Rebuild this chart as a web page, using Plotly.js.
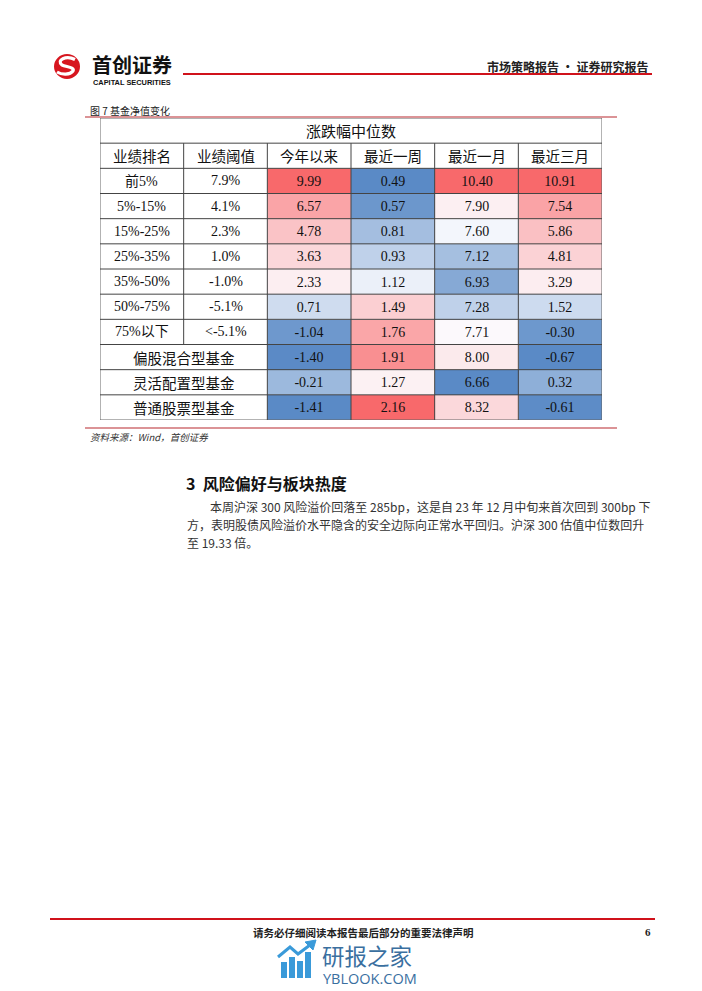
<!DOCTYPE html>
<html><head><meta charset="utf-8">
<script src="https://cdn.plot.ly/plotly-3.0.1.min.js"></script>
<style>html,body{margin:0;padding:0;background:#fff;}#chart{width:702px;height:991px;}</style>
</head><body><div id="chart"></div>
<script>
// ---------------- data ----------------
const tableTitle = '涨跌幅中位数';
const headerLeft = ['业绩排名', '业绩阈值'];
const periods = ['今年以来', '最近一周', '最近一月', '最近三月'];
const rankLabels = ['前5%', '5%-15%', '15%-25%', '25%-35%', '35%-50%', '50%-75%', '75%以下'];
const thresholds = ['7.9%', '4.1%', '2.3%', '1.0%', '-1.0%', '-5.1%', '<-5.1%'];
const fundTypes = ['偏股混合型基金', '灵活配置型基金', '普通股票型基金'];
const ytd     = [9.99, 6.57, 4.78, 3.63, 2.33, 0.71, -1.04, -1.40, -0.21, -1.41];
const week    = [0.49, 0.57, 0.81, 0.93, 1.12, 1.49, 1.76, 1.91, 1.27, 2.16];
const month   = [10.40, 7.90, 7.60, 7.12, 6.93, 7.28, 7.71, 8.00, 6.66, 8.32];
const quarter = [10.91, 7.54, 5.86, 4.81, 3.29, 1.52, -0.30, -0.67, 0.32, -0.61];

// ---------------- helpers ----------------
const W = 702, H = 991;
const px = x => x / W, py = y => 1 - y / H;
const CJK = 'Noto Sans CJK SC';
const SERIF = 'Liberation Serif, ' + CJK;
function median(a){const s=[...a].sort((p,q)=>p-q);const n=s.length;return n%2?s[(n-1)/2]:(s[n/2-1]+s[n/2])/2;}
function norm(a){const mn=Math.min(...a),mx=Math.max(...a),md=median(a);
  return a.map(v=>v<=md?0.5*(v-mn)/(md-mn):0.5+0.5*(v-md)/(mx-md));}

const series = [ytd, week, month, quarter];
const rowLabels = rankLabels.concat(fundTypes);
const nRows = rowLabels.length;
const normCols = series.map(norm);
const z = [], txt = [];
for (let r = 0; r < nRows; r++) {
  z.push(normCols.map(c => c[r]));
  txt.push(series.map(c => c[r].toFixed(2)));
}
const xCenters = periods.map((_, i) => i + 2.5);
const yCenters = rowLabels.map((_, r) => r + 2.5);

const heat = {
  type: 'heatmap', x: xCenters, y: yCenters, z: z, text: txt,
  texttemplate: '%{text}', textfont: {family: SERIF, size: 14, color: '#111'},
  zmin: 0, zmax: 1, showscale: false, hoverinfo: 'skip',
  colorscale: [[0, '#5A8AC6'], [0.5, '#FCFCFF'], [1, '#F8696B']]
};

// ---------------- annotations ----------------
const ann = [];
function pa(text, x, y, size, opt) {
  ann.push(Object.assign({text: text, x: px(x), y: py(y), xref: 'paper', yref: 'paper',
    showarrow: false, xanchor: 'left', yanchor: 'middle',
    font: {family: CJK, size: size, color: '#222'}}, opt || {}));
}
function da(text, x, y, size, fam) {
  ann.push({text: text, x: x, y: y, xref: 'x', yref: 'y', showarrow: false,
    xanchor: 'center', yanchor: 'middle', font: {family: fam || SERIF, size: size, color: '#111'}});
}
const nCols = 2 + periods.length;
da(tableTitle, nCols / 2, 0.5, 15, CJK);
headerLeft.concat(periods).forEach((h, i) => da(h, i + 0.5, 1.5, 14.5, CJK));
rankLabels.forEach((l, r) => da(l, 0.5, r + 2.5, 14));
thresholds.forEach((l, r) => da(l, 1.5, r + 2.5, 14));
fundTypes.forEach((l, r) => da(l, 1, rankLabels.length + r + 2.5, 14.5, CJK));

// page texts
pa('<b>首创证券</b>', 90, 64.5, 20, {font: {family: CJK, size: 20, color: '#111'}});
pa('<b>CAPITAL SECURITIES</b>', 91, 82, 7.4, {font: {family: 'Liberation Sans', size: 7.4, color: '#111'}});
pa('<b>市场策略报告 · 证券研究报告</b>', 650, 66, 12, {xanchor: 'right', font: {family: CJK, size: 12, color: '#222'}});
pa('图 7 基金净值变化', 88, 110.5, 10, {font: {family: CJK, size: 10, color: '#222'}});
pa('<i>资料来源：Wind，首创证券</i>', 88, 436.5, 9.5, {font: {family: CJK, size: 9.5, color: '#333'}});
pa('<b>3  风险偏好与板块热度</b>', 184, 483, 16, {font: {family: CJK, size: 16, color: '#111'}});
pa('本周沪深 300 风险溢价回落至 285bp，这是自 23 年 12 月中旬来首次回到 300bp 下', 208, 506, 12, {font: {family: CJK, size: 12, color: '#333'}});
pa('方，表明股债风险溢价水平隐含的安全边际向正常水平回归。沪深 300 估值中位数回升', 185, 524, 12, {font: {family: CJK, size: 12, color: '#333'}});
pa('至 19.33 倍。', 185, 542, 12, {font: {family: CJK, size: 12, color: '#333'}});
pa('<b>请务必仔细阅读本报告最后部分的重要法律声明</b>', 363, 932, 10.5, {xanchor: 'center', font: {family: CJK, size: 10.5, color: '#222'}});
pa('<b>6</b>', 653, 932, 11, {xanchor: 'right', font: {family: 'Liberation Serif', size: 11, color: '#222'}});
pa('研报之家', 320, 955, 22.5, {font: {family: CJK, size: 22.5, color: '#3a6f9f'}});
pa('YBLOOK.COM', 321, 978.5, 14.5, {font: {family: 'Open Sans', size: 14.5, color: '#3a6f9f'}});

// ---------------- shapes ----------------
const shapes = [];
const grid = '#444';
function dl(x0, y0, x1, y1, w, c) {
  shapes.push({type: 'line', xref: 'x', yref: 'y', x0: x0, y0: y0, x1: x1, y1: y1,
    line: {color: c || grid, width: w || 1}, layer: 'above'});
}
function pl(x0, y0, x1, y1, c, w) {
  shapes.push({type: 'line', xref: 'paper', yref: 'paper', x0: px(x0), y0: py(y0), x1: px(x1), y1: py(y1),
    line: {color: c, width: w}});
}
function pp(pts, fill, lineColor, lw, close) {
  let d = pts.map((p, i) => (i === 0 ? 'M' : 'L') + px(p[0]) + ',' + py(p[1])).join(' ');
  if (close) d += ' Z';
  shapes.push({type: 'path', xref: 'paper', yref: 'paper', path: d,
    fillcolor: fill || 'rgba(0,0,0,0)', line: {color: lineColor || 'rgba(0,0,0,0)', width: lw || 0}});
}
const totalRows = nRows + 2;
// table grid
shapes.push({type: 'rect', xref: 'x', yref: 'y', x0: 0, y0: 0, x1: nCols, y1: totalRows,
  line: {color: '#666', width: 1}, layer: 'above'});
for (let r = 1; r < totalRows; r++) dl(0, r, nCols, r);
dl(1, 1, 1, rankLabels.length + 2);
for (let c = 2; c < nCols; c++) dl(c, 1, c, totalRows);

// page rules
pl(183, 74, 652, 74, '#D0121B', 2);
pl(85, 117, 617, 117, '#B8282E', 1.2);
pl(85, 428, 617, 428, '#B8282E', 1.2);
pl(50, 919, 655, 919, '#D0121B', 2.2);

// logo: red disc with white S swoosh
shapes.push({type: 'circle', xref: 'paper', yref: 'paper', x0: px(54), y0: py(54), x1: px(80), y1: py(79),
  fillcolor: '#D7161F', line: {width: 0}});
shapes.push({type: 'path', xref: 'paper', yref: 'paper',
  path: 'M' + px(75) + ',' + py(59.5) + ' C' + px(66) + ',' + py(55) + ' ' + px(56) + ',' + py(60) + ' ' + px(62) + ',' + py(65) +
        ' C' + px(66) + ',' + py(67) + ' ' + px(75) + ',' + py(67) + ' ' + px(73) + ',' + py(71) +
        ' C' + px(70) + ',' + py(75) + ' ' + px(62) + ',' + py(75) + ' ' + px(57) + ',' + py(72),
  line: {color: '#fff', width: 3.2}});

// watermark icon
const wb = '#3a9ad9';
[[281, 962], [289, 957], [297, 961], [305, 952]].forEach(b =>
  shapes.push({type: 'rect', xref: 'paper', yref: 'paper', x0: px(b[0]), x1: px(b[0] + 6), y0: py(978), y1: py(b[1]),
    fillcolor: wb, line: {width: 0}}));
pp([[278, 957], [290, 947], [298, 954], [310, 945]], null, wb, 3, false);
pp([[305, 942], [316, 940], [313, 950]], wb, wb, 1, true);

const layout = {
  width: W, height: H, margin: {l: 0, r: 0, t: 0, b: 0},
  paper_bgcolor: '#fff', plot_bgcolor: '#fff', showlegend: false,
  xaxis: {domain: [px(100), px(602)], range: [0, nCols], visible: false, fixedrange: true},
  yaxis: {domain: [py(420), py(118)], range: [totalRows, 0], visible: false, fixedrange: true},
  annotations: ann, shapes: shapes
};
Plotly.newPlot('chart', [heat], layout, {staticPlot: true, displayModeBar: false});
</script></body></html>
